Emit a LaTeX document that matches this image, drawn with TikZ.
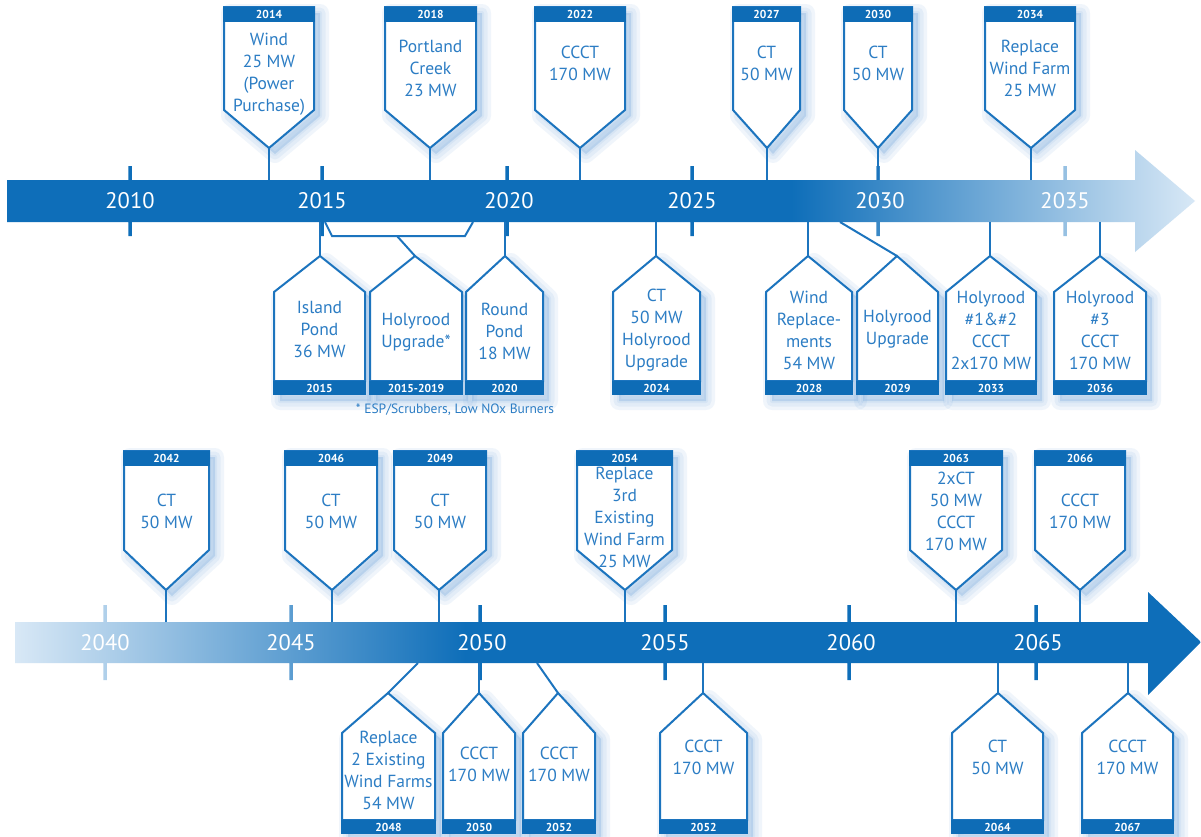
\documentclass[tikz,border=0pt]{standalone}
\usepackage{fontspec}
\setmainfont{PT Sans}
\definecolor{barblue}{RGB}{14,110,185}
\definecolor{barlight}{RGB}{216,232,246}
\definecolor{lineblue}{RGB}{28,116,190}
\definecolor{txtblue}{RGB}{44,125,196}
\definecolor{hdrblue}{RGB}{14,108,182}
\definecolor{glow}{RGB}{110,165,220}
\pgfdeclarehorizontalshading{topbar}{100bp}{color(0bp)=(barblue); color(25bp)=(barblue); color(58bp)=(barblue); color(75bp)=(barlight); color(100bp)=(barlight)}
\pgfdeclarehorizontalshading{botbar}{100bp}{color(0bp)=(barlight); color(25bp)=(barlight); color(44bp)=(barblue); color(100bp)=(barblue)}
\tikzset{
  callout/.style={draw=lineblue, fill=white, line width=2pt, line join=miter},
  stem/.style={draw=lineblue, line width=2pt},
  hdr/.style={fill=hdrblue},
  yr/.style={text=white, font=\bfseries\fontsize{11.5}{11.5}\selectfont, inner sep=0pt},
  body/.style={text=txtblue, font=\fontsize{17.5}{22}\selectfont, align=center, inner sep=0pt},
  axislbl/.style={text=white, font=\fontsize{22.5}{22.5}\selectfont, inner sep=0pt},
  note/.style={text=txtblue, font=\fontsize{13.5}{13.5}\selectfont, inner sep=0pt},
  glowpath/.style={fill=glow, draw=glow, opacity=0.10, line join=round},
}
% callout hanging above a bar: name, x1, x2, tip x, year, text y, text
\newcommand{\TopCall}[7]{%
  \foreach \w in {18,11,4}{\path[glowpath, line width=\w pt, shift={(6,6)}] (#2,\RTa) -- (#2,\RTb) -- (#4,\RTc) -- (#3,\RTb) -- (#3,\RTa) -- cycle;}
  \coordinate (#1tip) at (#4,\RTc);
  \coordinate (#1bar) at (#4,\RTd);
  \path[callout] (#2,\RTa) -- (#2,\RTb) -- (#1tip) -- (#3,\RTb) -- (#3,\RTa) -- cycle;
  \fill[hdr] ({#2-1},\RTa) rectangle ({#3+1},{\RTa+15});
  \node[yr] (#1yr) at ({(#2+#3)/2},{\RTa+7.5}) {#5};
  \node[body] (#1txt) at ({(#2+#3)/2},#6) {#7};
  \draw[stem] (#1bar) -- (#1tip);
}
% callout hanging below a bar: name, x1, x2, tip x, year, text y, text
\newcommand{\BotCall}[7]{%
  \foreach \w in {18,11,4}{\path[glowpath, line width=\w pt, shift={(6,6)}] (#4,\RBa) -- (#3,\RBb) -- (#3,\RBd) -- (#2,\RBd) -- (#2,\RBb) -- cycle;}
  \coordinate (#1tip) at (#4,\RBa);
  \path[callout] (#1tip) -- (#3,\RBb) -- (#3,\RBc) -- (#2,\RBc) -- (#2,\RBb) -- cycle;
  \fill[hdr] ({#2-1},\RBc) rectangle ({#3+1},\RBd);
  \node[yr] (#1yr) at ({(#2+#3)/2},{(\RBc+\RBd)/2}) {#5};
  \node[body] (#1txt) at ({(#2+#3)/2},#6) {#7};
}
\begin{document}
\begin{tikzpicture}[x=1pt, y=-1pt]
\useasboundingbox (0,0) rectangle (1201,836);
\fill[white] (0,0) rectangle (1201,836);

% ---------------- Row 1 bar ----------------
\shade[shading=topbar] (7,180) -- (7,222) -- (1135,222) -- (1135,252) -- (1195,201) -- (1135,150) -- (1135,180) -- cycle
  \foreach \t in {130,322,507,692,878,1065} { ({\t-1.75},166) rectangle ({\t+1.75},236) };
\node[axislbl] (y2010) at (130,201) {2010};
\node[axislbl] (y2015) at (322,201) {2015};
\node[axislbl] (y2020) at (509,201) {2020};
\node[axislbl] (y2025) at (692,201) {2025};
\node[axislbl] (y2030) at (880,201) {2030};
\node[axislbl] (y2035) at (1065,201) {2035};

% Row 1 callouts above
\def\RTa{7}\def\RTb{110}\def\RTc{148}\def\RTd{180}
\TopCall{c14}{224}{314}{269}{2014}{74}{Wind\\25 MW\\(Power\\Purchase)}
\TopCall{c18}{385}{476}{430}{2018}{68}{Portland\\Creek\\23 MW}
\TopCall{c22}{535}{625}{580}{2022}{63}{CCCT\\170 MW}
\TopCall{c27}{733}{800}{767}{2027}{63}{CT\\50 MW}
\TopCall{c30}{844}{912}{878}{2030}{63}{CT\\50 MW}
\TopCall{c34}{985}{1075}{1031}{2034}{68}{Replace\\Wind Farm\\25 MW}

% Row 1 callouts below
\def\RBa{256}\def\RBb{292}\def\RBc{381}\def\RBd{395}
\BotCall{c15}{274}{365}{320}{2015}{329}{Island\\Pond\\36 MW}
\BotCall{c1519}{370}{462}{415}{2015-2019}{332}{Holyrood\\Upgrade*}
\BotCall{c20}{466}{543}{505}{2020}{331}{Round\\Pond\\18 MW}
\BotCall{c24}{613}{700}{656}{2024}{330}{CT\\50 MW\\Holyrood\\Upgrade}
\BotCall{c28}{766}{852}{808}{2028}{330}{Wind\\Replace-\\ments\\54 MW}
\BotCall{c29}{857}{938}{897}{2029}{329}{Holyrood\\Upgrade}
\BotCall{c33}{946}{1036}{990}{2033}{330}{Holyrood\\\#1\&\#2\\CCCT\\2x170 MW}
\BotCall{c36}{1054}{1146}{1100}{2036}{330}{Holyrood\\\#3\\CCCT\\170 MW}

\coordinate (c15bar) at (320,222);
\coordinate (c20bar) at (505,222);
\coordinate (c24bar) at (656,222);
\coordinate (c28bar) at (808,222);
\coordinate (c29bar) at (840,222);
\coordinate (c33bar) at (990,222);
\coordinate (c36bar) at (1100,222);
\coordinate (hbA) at (325,222);
\coordinate (hbB) at (332,236);
\coordinate (hbC) at (465,236);
\coordinate (hbD) at (473,222);
\coordinate (hbE) at (397,236);
\draw[stem] (c15bar) -- (c15tip);
\draw[stem] (c20bar) -- (c20tip);
\draw[stem] (c24bar) -- (c24tip);
\draw[stem] (c28bar) -- (c28tip);
\draw[stem] (c29bar) -- (c29tip);
\draw[stem] (c33bar) -- (c33tip);
\draw[stem] (c36bar) -- (c36tip);
\draw[stem] (hbA) -- (hbB) -- (hbC) -- (hbD);
\draw[stem] (hbE) -- (c1519tip);

\node[note] (fn) at (455,410) {* ESP/Scrubbers, Low NOx Burners};

% ---------------- Row 2 bar ----------------
\shade[shading=botbar] (15,622) -- (15,663) -- (1148,663) -- (1148,695) -- (1201,642) -- (1148,592) -- (1148,622) -- cycle
  \foreach \t in {105,291,480,665,849,1036} { ({\t-1.75},605) rectangle ({\t+1.75},680) };
\node[axislbl] (y2040) at (105,643) {2040};
\node[axislbl] (y2045) at (291,643) {2045};
\node[axislbl] (y2050) at (482,643) {2050};
\node[axislbl] (y2055) at (665,643) {2055};
\node[axislbl] (y2060) at (851,643) {2060};
\node[axislbl] (y2065) at (1038,643) {2065};

\def\RTa{451}\def\RTb{550}\def\RTc{590}\def\RTd{622}
\TopCall{c42}{124}{209}{166}{2042}{511}{CT\\50 MW}
\TopCall{c46}{285}{377}{332}{2046}{511}{CT\\50 MW}
\TopCall{c49}{394}{486}{439}{2049}{511}{CT\\50 MW}
\TopCall{c54}{577}{672}{625}{2054}{517}{Replace\\3rd\\Existing\\Wind Farm\\25 MW}
\TopCall{c63}{910}{1002}{956}{2063}{511}{2xCT\\50 MW\\CCCT\\170 MW}
\TopCall{c66}{1035}{1125}{1080}{2066}{511}{CCCT\\170 MW}

\def\RBa{693}\def\RBb{733}\def\RBc{820}\def\RBd{834}
\BotCall{c48}{342}{435}{388}{2048}{770}{Replace\\2 Existing\\Wind Farms\\54 MW}
\BotCall{c50}{443}{515}{479}{2050}{764}{CCCT\\170 MW}
\BotCall{c52a}{523}{595}{558}{2052}{764}{CCCT\\170 MW}
\BotCall{c52b}{660}{747}{703}{2052}{757}{CCCT\\170 MW}
\BotCall{c64}{952}{1043}{998}{2064}{757}{CT\\50 MW}
\BotCall{c67}{1082}{1173}{1128}{2067}{757}{CCCT\\170 MW}

\coordinate (c48bar) at (418,663);
\coordinate (c50bar) at (479,663);
\coordinate (c52abar) at (537,663);
\coordinate (c52bbar) at (703,663);
\coordinate (c64bar) at (998,663);
\coordinate (c67bar) at (1128,663);
\draw[stem] (c48bar) -- (c48tip);
\draw[stem] (c50bar) -- (c50tip);
\draw[stem] (c52abar) -- (c52atip);
\draw[stem] (c52bbar) -- (c52btip);
\draw[stem] (c64bar) -- (c64tip);
\draw[stem] (c67bar) -- (c67tip);
\end{tikzpicture}
\end{document}
